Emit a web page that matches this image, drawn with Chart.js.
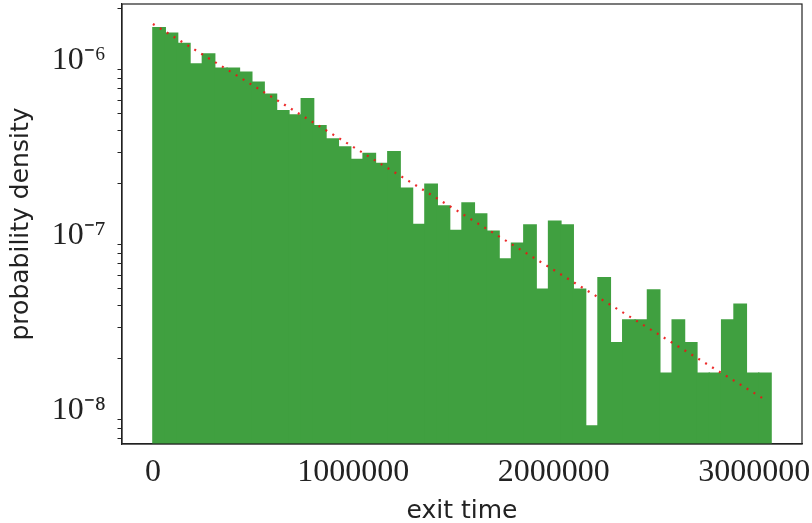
<!DOCTYPE html>
<html>
<head>
<meta charset="utf-8">
<script src="https://cdn.jsdelivr.net/npm/chart.js@4.4.1/dist/chart.umd.min.js"></script>
<style>
    body { margin: 0; background: #ffffff; }
    #wrap { width: 812px; height: 523px; }
</style>
</head>
<body>
<div id="wrap"><canvas id="chartHist" width="812" height="523"></canvas></div>
<script>
"use strict"

// histogram bins (exit time), 50 bins starting at 0
const binStart = 0;
const binWidth = 61680;
const density = [
    1.544e-6, 1.434e-6, 1.257e-6, 9.58e-7, 1.092e-6, 9.05e-7, 9.05e-7, 8.59e-7, 7.53e-7, 6.43e-7,
    5.18e-7, 4.89e-7, 6.07e-7, 4.25e-7, 3.57e-7, 3.21e-7, 2.73e-7, 2.95e-7, 2.59e-7, 3.02e-7,
    1.87e-7, 1.16e-7, 1.97e-7, 1.48e-7, 1.07e-7, 1.54e-7, 1.33e-7, 1.06e-7, 7.36e-8, 9.05e-8,
    1.15e-7, 4.94e-8, 1.21e-7, 1.15e-7, 4.94e-8, 8.18e-9, 5.75e-8, 2.45e-8, 3.30e-8, 3.30e-8,
    4.89e-8, 1.64e-8, 3.30e-8, 2.45e-8, 1.64e-8, 1.64e-8, 3.30e-8, 4.06e-8, 1.64e-8, 1.64e-8
];

// exponential fit, end points (straight on a log axis)
const fitTime = [0, 3062000];
const fitDensity = [1.621e-6, 1.14e-8];

// ticks
const xTicks = [0, 1000000, 2000000, 3000000];
const yTicks = [1e-8, 1e-7, 1e-6];
const yTickLabels = ["10⁻⁸", "10⁻⁷", "10⁻⁶"];
const yMinorTicks = [
    7e-9, 8e-9, 9e-9,
    2e-8, 3e-8, 4e-8, 5e-8, 6e-8, 7e-8, 8e-8, 9e-8,
    2e-7, 3e-7, 4e-7, 5e-7, 6e-7, 7e-7, 8e-7, 9e-7,
    2e-6
];

window.onload = function () {

    let histData = density.map((v, i) => ({ x: binStart + (i + 0.5) * binWidth, y: v }));
    let fitData = fitTime.map((t, i) => ({ x: t, y: fitDensity[i] }));

    // box round the plot + short minor ticks on the log axis
    let framePlugin = {
        id: "frame",
        afterDraw(chart) {
            const ctx = chart.ctx;
            const a = chart.chartArea;
            const y = chart.scales.y;
            ctx.save();
            ctx.strokeStyle = "#222222";
            ctx.lineWidth = 1.2;
            ctx.strokeRect(a.left, a.top, a.right - a.left, a.bottom - a.top);
            ctx.lineWidth = 1;
            ctx.beginPath();
            yMinorTicks.forEach(v => {
                const py = Math.round(y.getPixelForValue(v)) + 0.5;
                if (py < a.top || py > a.bottom) return;
                ctx.moveTo(a.left - 4.5, py);
                ctx.lineTo(a.left, py);
            });
            ctx.stroke();
            ctx.restore();
        }
    };

    new Chart(document.getElementById("chartHist"), {
        type: "bar",
        data: {
            datasets: [
                {
                    type: "line",
                    data: fitData,
                    borderColor: "rgba(235, 20, 20, 0.9)",
                    borderWidth: 2.2,
                    borderDash: [2, 6.1],
                    borderCapStyle: "butt",
                    pointRadius: 0,
                    fill: false,
                    order: 0
                },
                {
                    type: "bar",
                    data: histData,
                    backgroundColor: "rgb(64, 160, 64)",
                    borderWidth: 0,
                    barPercentage: 1.0,
                    categoryPercentage: 1.0,
                    inflateAmount: 0.7,
                    grouped: false,
                    order: 1
                }
            ]
        },
        options: {
            responsive: false,
            animation: false,
            layout: { padding: { left: 0, right: 10, top: 4, bottom: 0 } },
            plugins: {
                legend: { display: false },
                tooltip: { enabled: false }
            },
            scales: {
                x: {
                    type: "linear",
                    min: -154200,
                    max: 3238200,
                    offset: false,
                    afterBuildTicks: s => { s.ticks = xTicks.map(v => ({ value: v })); },
                    afterFit: s => { s.height = 79; s.paddingLeft = 0; s.paddingRight = 0; },
                    grid: { display: false, drawOnChartArea: false, drawTicks: true, tickLength: 7, tickColor: "#222222", offset: false },
                    border: { display: true, color: "#222222", width: 1.2 },
                    ticks: {
                        color: "#222222",
                        padding: 2,
                        maxRotation: 0,
                        autoSkip: false,
                        font: { family: "Liberation Serif", size: 32 },
                        callback: v => String(v)
                    },
                    title: {
                        display: true,
                        text: "exit time",
                        color: "#222222",
                        font: { family: "DejaVu Sans", size: 25 },
                        padding: { top: 0, bottom: -3 }
                    }
                },
                y: {
                    type: "logarithmic",
                    min: 6.45e-9,
                    max: 2.109e-6,
                    afterBuildTicks: s => { s.ticks = yTicks.map(v => ({ value: v })); },
                    afterFit: s => { s.width = 122; s.paddingTop = 0; s.paddingBottom = 0; },
                    grid: { display: false, drawOnChartArea: false, drawTicks: true, tickLength: 7, tickColor: "#222222" },
                    border: { display: true, color: "#222222", width: 1.2 },
                    ticks: {
                        color: "#222222",
                        padding: 9,
                        autoSkip: false,
                        font: { family: "Liberation Serif", size: 32 },
                        callback: function (v) {
                            let k = yTicks.indexOf(v);
                            return k >= 0 ? yTickLabels[k] : "";
                        }
                    },
                    title: {
                        display: true,
                        text: "probability density",
                        color: "#222222",
                        font: { family: "DejaVu Sans", size: 25 },
                        padding: { top: 6, bottom: 0 }
                    }
                }
            }
        },
        plugins: [framePlugin]
    });
}
</script>
</body>
</html>
